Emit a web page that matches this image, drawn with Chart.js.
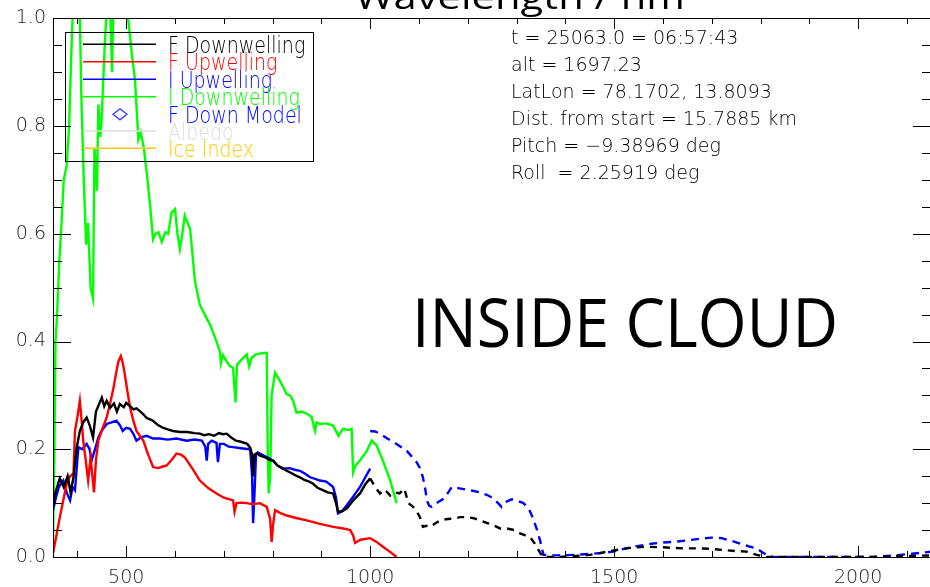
<!DOCTYPE html>
<html><head><meta charset="utf-8">
<script src="https://cdn.jsdelivr.net/npm/chart.js@4/dist/chart.umd.min.js"></script>
<style>html,body{margin:0;padding:0;background:#fff;overflow:hidden}#wrap{width:940px;height:587px;position:relative}canvas{display:block}</style>
</head><body>
<div id="wrap"><canvas id="c" width="940" height="587" style="width:940px;height:587px"></canvas></div>
<script>
// ---- data: [wavelength nm, value] ----
const fDownwelling = [[350,0.093],[355,0.12],[364,0.146],[372,0.13],[380,0.15],[386,0.12],[392,0.148],[398,0.2],[405,0.234],[412,0.25],[419,0.259],[425,0.245],[432,0.222],[438,0.27],[445,0.285],[450,0.296],[455,0.28],[460,0.29],[467,0.277],[475,0.285],[481,0.27],[487,0.284],[495,0.278],[500,0.286],[508,0.28],[515,0.274],[521,0.276],[528,0.271],[535,0.265],[542,0.258],[550,0.255],[555,0.253],[565,0.245],[575,0.24],[585,0.237],[596,0.234],[610,0.232],[625,0.232],[640,0.23],[651,0.229],[660,0.226],[670,0.228],[680,0.225],[690,0.23],[698,0.228],[706,0.229],[715,0.222],[725,0.216],[735,0.214],[748,0.21],[754,0.203],[758,0.19],[760,0.15],[763,0.19],[768,0.193],[774,0.188],[785,0.185],[795,0.18],[801,0.179],[810,0.17],[820,0.165],[829,0.16],[840,0.155],[850,0.15],[856,0.148],[865,0.143],[875,0.14],[883,0.136],[893,0.128],[903,0.124],[913,0.12],[924,0.118],[930,0.1],[934,0.084],[942,0.085],[952,0.09],[965,0.105],[979,0.118],[990,0.135],[1000,0.146]];
const fDownwellingNIR = [[1000,0.146],[1010,0.13],[1020,0.118],[1030,0.125],[1041,0.114],[1050,0.12],[1060,0.118],[1070,0.127],[1078,0.1],[1088,0.093],[1095,0.085],[1102,0.074],[1108,0.056],[1115,0.058],[1123,0.056],[1133,0.062],[1143,0.068],[1155,0.07],[1164,0.071],[1175,0.072],[1184,0.074],[1200,0.074],[1212,0.072],[1225,0.068],[1240,0.063],[1252,0.059],[1266,0.053],[1280,0.053],[1295,0.05],[1307,0.044],[1318,0.04],[1327,0.037],[1335,0.028],[1341,0.019],[1348,0.008],[1354,0.0],[1389,0.0],[1420,0.002],[1450,0.004],[1470,0.007],[1485,0.01],[1505,0.013],[1525,0.016],[1545,0.018],[1566,0.019],[1600,0.018],[1640,0.016],[1676,0.016],[1700,0.015],[1723,0.013],[1750,0.011],[1771,0.01],[1792,0.004],[1812,0.0],[1900,0.0],[2000,0.0],[2050,0.0],[2080,0.002],[2110,0.002],[2150,0.003]];
const fUpwelling = [[350,0.007],[357,0.04],[364,0.074],[371,0.105],[378,0.136],[385,0.15],[392,0.155],[395,0.234],[400,0.26],[405,0.29],[409,0.25],[412,0.216],[417,0.18],[422,0.142],[427,0.185],[434,0.12],[438,0.18],[443,0.216],[452,0.24],[460,0.259],[467,0.285],[474,0.314],[480,0.345],[484,0.363],[489,0.373],[493,0.36],[497,0.34],[502,0.31],[508,0.277],[514,0.255],[521,0.234],[528,0.225],[535,0.216],[545,0.19],[555,0.167],[565,0.165],[575,0.168],[583,0.17],[593,0.18],[603,0.192],[612,0.19],[620,0.185],[635,0.165],[651,0.142],[668,0.128],[685,0.118],[700,0.11],[712,0.107],[719,0.105],[722,0.084],[726,0.1],[735,0.101],[747,0.1],[760,0.098],[774,0.1],[788,0.093],[795,0.07],[798,0.028],[801,0.06],[805,0.087],[815,0.082],[829,0.077],[850,0.072],[870,0.068],[895,0.062],[924,0.056],[945,0.053],[959,0.05],[965,0.04],[969,0.026],[980,0.032],[1000,0.035],[1013,0.028],[1026,0.019],[1040,0.01],[1054,0.0]];
const iUpwelling = [[350,0.087],[356,0.11],[362,0.13],[371,0.142],[378,0.12],[385,0.105],[390,0.13],[395,0.124],[402,0.204],[410,0.2],[419,0.21],[425,0.2],[429,0.179],[436,0.2],[443,0.222],[450,0.235],[460,0.247],[470,0.25],[480,0.253],[487,0.245],[493,0.234],[500,0.24],[508,0.238],[515,0.228],[521,0.216],[530,0.222],[542,0.225],[555,0.22],[569,0.22],[585,0.218],[603,0.22],[624,0.216],[640,0.218],[655,0.216],[662,0.205],[665,0.179],[668,0.21],[675,0.216],[685,0.212],[688,0.176],[692,0.21],[700,0.21],[710,0.205],[719,0.204],[735,0.202],[754,0.2],[758,0.15],[760,0.063],[763,0.12],[766,0.19],[770,0.194],[774,0.192],[787,0.186],[801,0.179],[810,0.17],[821,0.164],[835,0.165],[845,0.162],[856,0.16],[866,0.155],[877,0.148],[887,0.145],[897,0.142],[910,0.14],[924,0.13],[930,0.11],[934,0.081],[942,0.085],[952,0.096],[965,0.112],[979,0.13],[990,0.148],[1000,0.164]];
const iUpwellingNIR = [[1000,0.234],[1010,0.233],[1020,0.229],[1035,0.22],[1054,0.21],[1075,0.197],[1095,0.176],[1102,0.165],[1108,0.148],[1113,0.125],[1116,0.105],[1121,0.095],[1126,0.093],[1136,0.1],[1150,0.108],[1160,0.12],[1167,0.13],[1180,0.128],[1198,0.125],[1210,0.123],[1225,0.12],[1240,0.115],[1252,0.109],[1262,0.1],[1269,0.093],[1280,0.103],[1290,0.107],[1300,0.105],[1314,0.1],[1325,0.09],[1334,0.071],[1342,0.05],[1348,0.031],[1355,0.004],[1370,0.003],[1389,0.003],[1420,0.004],[1457,0.006],[1480,0.008],[1498,0.01],[1520,0.015],[1539,0.019],[1560,0.022],[1580,0.025],[1600,0.027],[1621,0.028],[1650,0.031],[1676,0.034],[1700,0.036],[1720,0.035],[1740,0.03],[1758,0.025],[1775,0.02],[1792,0.016],[1805,0.008],[1812,0.004],[1825,0.0],[1900,0.0],[1950,0.0],[2000,0.0],[2030,0.0],[2060,0.002],[2086,0.004],[2110,0.006],[2130,0.008],[2150,0.01]];
const iDownwelling = [[350,0.031],[353,0.2],[355,0.4],[358,0.443],[363,0.55],[368,0.628],[372,0.7],[378,0.727],[383,0.8],[388,0.948],[392,1.05],[398,1.1],[404,1.05],[408,0.86],[413,0.7],[418,0.58],[422,0.62],[427,0.5],[432,0.48],[435,0.76],[440,0.68],[443,0.84],[447,0.78],[450,0.82],[456,0.95],[462,1.05],[467,1.02],[471,0.9],[474,1.05],[480,1.15],[490,1.2],[500,1.1],[504,1.0],[512,0.93],[518,0.886],[525,0.775],[530,0.788],[536,0.76],[542,0.714],[549,0.653],[555,0.59],[560,0.6],[566,0.603],[573,0.585],[580,0.603],[586,0.6],[593,0.64],[600,0.646],[605,0.6],[610,0.572],[615,0.6],[620,0.634],[626,0.62],[631,0.609],[636,0.56],[641,0.511],[651,0.468],[661,0.45],[672,0.431],[685,0.4],[692,0.382],[694,0.36],[698,0.375],[706,0.363],[712,0.355],[719,0.351],[724,0.287],[727,0.357],[735,0.365],[747,0.376],[752,0.354],[757,0.37],[765,0.376],[775,0.378],[788,0.379],[790,0.2],[792,0.118],[795,0.15],[798,0.3],[805,0.342],[815,0.327],[822,0.315],[829,0.302],[836,0.3],[842,0.29],[849,0.268],[860,0.27],[870,0.266],[880,0.26],[885,0.24],[887,0.234],[890,0.25],[897,0.247],[910,0.248],[924,0.244],[935,0.225],[944,0.238],[955,0.236],[962,0.238],[965,0.157],[970,0.17],[979,0.179],[993,0.197],[1003,0.216],[1013,0.207],[1026,0.179],[1041,0.142],[1054,0.1]];
const fDownModel = [];
const albedo = [];
const iceIndex = [];

const legendLabels = ['F Downwelling','F Upwelling','I Upwelling','I Downwelling','F Down Model','Albedo','Ice Index'];
const legendColors = ['#000000','#ff0000','#0000ff','#00ff00','#0000ff','#dddddd','#ffcc00'];
const xTickLabels = [500,1000,1500,2000];
const yTickLabels = ['0.0','0.2','0.4','0.6','0.8','1.0'];
const infoLines = ['t = 25063.0 = 06:57:43','alt = 1697.23','LatLon = 78.1702, 13.8093','Dist. from start = 15.7885 km','Pitch = \u22129.38969 deg','Roll  = 2.25919 deg'];
const titleText = 'Wavelength / nm';
const bigLabel = 'INSIDE CLOUD';

const toXY = arr => arr.map(p => ({x:p[0], y:p[1]}));
const IDLFONT = '"DejaVu Sans", "Liberation Sans", sans-serif';

function ds(label, data, color, dash, inLegend) {
  return {label, data: toXY(data), borderColor: color, backgroundColor: color, borderWidth: 2.4,
    borderDash: dash || [], pointRadius: 0, tension: 0, fill: false, inLegend};
}

const datasets = [
  ds(legendLabels[0], fDownwelling, legendColors[0], null, true),
  ds(legendLabels[1], fUpwelling, legendColors[1], null, true),
  ds(legendLabels[2], iUpwelling, legendColors[2], null, true),
  ds(legendLabels[3], iDownwelling, legendColors[3], null, true),
  ds(legendLabels[4], fDownModel, legendColors[4], null, true),
  ds(legendLabels[5], albedo, legendColors[5], null, true),
  ds(legendLabels[6], iceIndex, legendColors[6], null, true),
  ds('F Downwelling NIR', fDownwellingNIR, legendColors[0], [7,6], false),
  ds('I Upwelling NIR', iUpwellingNIR, legendColors[2], [8,6], false)
];
datasets[4].showLine = false; datasets[4].pointStyle = 'rectRot';

const isMult = (v, s) => Math.abs(v / s - Math.round(v / s)) < 1e-6;
const stepValues = (lo, hi, step) => { const out = []; for (let i = 0; lo + i * step <= hi + 1e-9; i++) out.push(+(lo + i * step).toFixed(6)); return out; };
const xTickValues = stepValues(400, 2100, 100);
const yTickValues = stepValues(0, 1, 0.05);

const decor = {
  id: 'decor',
  afterDraw(chart) {
    const ctx = chart.ctx, a = chart.chartArea, xs = chart.scales.x, ys = chart.scales.y;
    ctx.save();
    ctx.setLineDash([]);
    ctx.fillStyle = '#000';
    const L = Math.round(a.left), R = Math.round(a.right), T = Math.round(a.top), B = Math.round(a.bottom);
    ctx.fillRect(L, T, R - L, 1);
    ctx.fillRect(L, B, R - L, 1);
    ctx.fillRect(L, T, 1, B - T + 1);
    ctx.fillRect(R, T, 1, B - T + 1);
    xTickValues.forEach(v => {
      const px = Math.round(xs.getPixelForValue(v));
      const len = isMult(v, 500) ? 11 : 6;
      ctx.fillRect(px, B - len, 1, len);
      ctx.fillRect(px, T, 1, len);
    });
    yTickValues.forEach(v => {
      if (v <= 0 || v >= 1) return;
      const py = Math.round(ys.getPixelForValue(v));
      const len = isMult(v, 0.2) ? 18 : 9;
      ctx.fillRect(L, py, len, 1);
      ctx.fillRect(R - len, py, len, 1);
    });

    // legend
    ctx.strokeStyle = '#000'; ctx.lineWidth = 1;
    ctx.strokeRect(65.5, 32.5, 248, 129);
    const rowY = [44.3, 61.7, 79.3, 96.7, 114.3, 131, 148.3];
    const items = chart.data.datasets.filter(d => d.inLegend);
    items.forEach((d, i) => {
      const y = rowY[i];
      if (d.showLine === false) {
        ctx.beginPath();
        ctx.moveTo(120, y - 5.5); ctx.lineTo(127, y); ctx.lineTo(120, y + 5.5); ctx.lineTo(113, y); ctx.closePath();
        ctx.lineWidth = 1.3; ctx.strokeStyle = '#3a3aff'; ctx.stroke();
      } else {
        ctx.strokeStyle = d.borderColor; ctx.lineWidth = 1.5;
        ctx.beginPath(); ctx.moveTo(83, y); ctx.lineTo(156, y); ctx.stroke();
      }
      ctx.save();
      ctx.fillStyle = d.borderColor;
      ctx.font = '300 19px ' + IDLFONT;
      ctx.textBaseline = 'alphabetic';
      ctx.translate(168, y + 8.6);
      ctx.scale(1, 1.2);
      ctx.fillText(d.label, 0, 0);
      ctx.restore();
    });

    ctx.fillStyle = '#000';
    ctx.font = '300 19px ' + IDLFONT;
    ctx.textBaseline = 'alphabetic';
    infoLines.forEach((s, i) => ctx.fillText(s, 511, 43.5 + 27 * i));

    fitText(ctx, bigLabel, 412, 347, 426, 49, '"Open Sans", "Noto Sans", sans-serif', '#000');
    fitText(ctx, titleText, 355, 9, 330, 24, '"Open Sans", "Noto Sans", sans-serif', '#000');
    ctx.restore();
  }
};

function fitText(ctx, text, x, baseline, width, capH, family, color) {
  ctx.save();
  ctx.font = '100px ' + family;
  const m = ctx.measureText(text);
  const cap = ctx.measureText('H').actualBoundingBoxAscent;
  ctx.translate(x, baseline);
  ctx.scale(width / m.width, capH / cap);
  ctx.fillStyle = color;
  ctx.textBaseline = 'alphabetic';
  ctx.fillText(text, 0, 0);
  ctx.restore();
}

new Chart(document.getElementById('c'), {
  type: 'line',
  data: { datasets },
  plugins: [decor],
  options: {
    responsive: false, animation: false, devicePixelRatio: 1,
    layout: { padding: { left: 0, top: 15, right: 8.6, bottom: 0 } },
    plugins: { legend: { display: false }, tooltip: { enabled: false } },
    scales: {
      x: {
        type: 'linear', min: 350, max: 2150,
        grid: { display: false, drawTicks: false }, border: { display: false },
        afterBuildTicks: s => { s.ticks = xTickValues.map(v => ({ value: v })); },
        ticks: { autoSkip: false, maxRotation: 0, padding: 10, color: '#222',
          font: { family: IDLFONT, size: 19, weight: 300 },
          callback: v => xTickLabels.includes(Math.round(v)) ? String(Math.round(v)) : null },
        afterFit: s => { s.height = 30; }
      },
      y: {
        type: 'linear', min: 0, max: 1,
        grid: { display: false, drawTicks: false }, border: { display: false },
        afterBuildTicks: s => { s.ticks = yTickValues.map(v => ({ value: v })); },
        ticks: { autoSkip: false, padding: 7, color: '#222',
          font: { family: IDLFONT, size: 19, weight: 300 },
          callback: v => isMult(v, 0.2) ? yTickLabels[Math.round(v / 0.2)] : null },
        afterFit: s => { s.width = 53; }
      }
    }
  }
});
</script>
</body></html>
